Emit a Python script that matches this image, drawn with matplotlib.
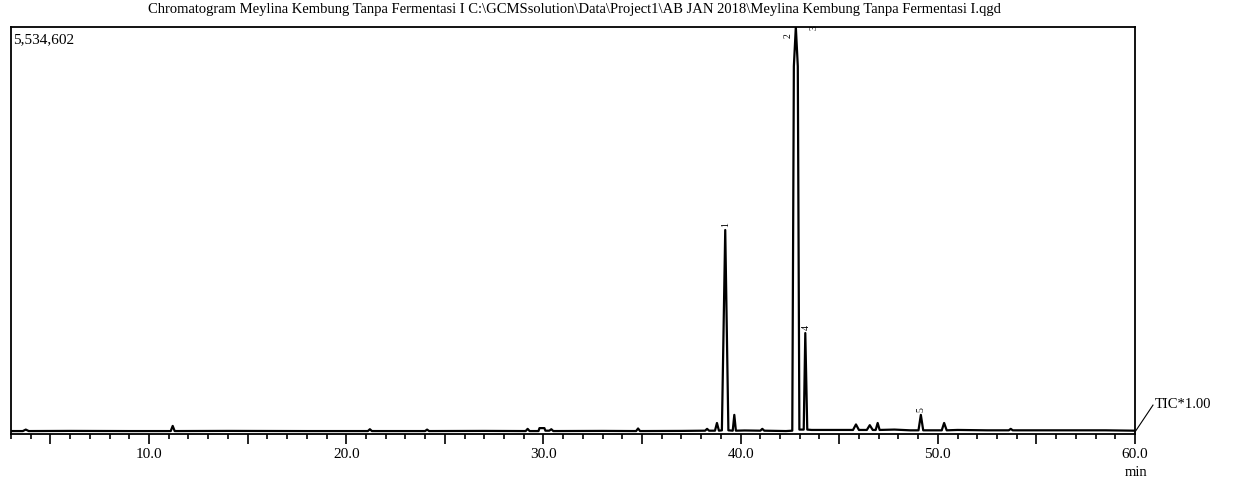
import matplotlib
matplotlib.use("Agg")
import matplotlib.pyplot as plt
from matplotlib.ticker import MultipleLocator, FuncFormatter

# === DATA ===
rt = [3.0, 3.6, 3.75, 3.9, 6.0, 9.0, 11.1, 11.2, 11.3, 14.0, 18.0,
      21.1, 21.2, 21.3, 24.0, 24.1, 24.2, 27.0, 29.1, 29.2, 29.3,
      29.75, 29.8, 30.05, 30.1, 30.3, 30.4, 30.5, 33.0, 34.7, 34.8,
      34.9, 37.0, 38.2, 38.3, 38.4, 38.7, 38.8, 38.9, 39.05, 39.22,
      39.38, 39.6, 39.68, 39.76, 40.2, 41.0, 41.1, 41.2, 42.3, 42.62,
      42.7, 42.8, 42.9, 42.98, 43.12, 43.2, 43.28, 43.38,
      43.6, 44.5, 45.7, 45.85, 46.0, 46.4, 46.55, 46.7, 46.85, 46.95,
      47.05, 47.8, 48.6, 48.9, 49.02, 49.14, 49.26, 49.6, 50.2, 50.32,
      50.45, 51.0, 52.5, 53.6, 53.7, 53.8, 56.0, 58.5, 60.0]
tic = [40000, 40000, 60000, 40000, 42000, 40000, 40000, 110000, 40000, 42000, 40000,
       40000, 65000, 40000, 40000, 60000, 40000, 42000, 40000, 70000, 40000,
       40000, 80000, 80000, 45000, 45000, 65000, 40000, 42000, 40000, 75000,
       40000, 42000, 45000, 70000, 45000, 45000, 150000, 45000, 50000, 2774000,
       50000, 45000, 260000, 45000, 48000, 45000, 70000, 45000, 40000, 45000,
       5000000, 5534602, 5000000, 60000, 60000, 60000, 1373000, 60000,
       55000, 55000, 55000, 130000, 55000, 55000, 120000, 55000, 55000, 150000,
       55000, 60000, 50000, 50000, 50000, 260000, 50000, 50000, 50000, 150000,
       50000, 55000, 50000, 50000, 70000, 50000, 50000, 50000, 45000]

peak_no = ["1", "2", "3", "4", "5"]
peak_rt = [39.22, 42.76, 42.88, 43.28, 49.14]
peak_h = [2774000, 5534602, 5534602, 1373000, 260000]
max_tic = 5534602

# === FIGURE ===
fig = plt.figure(figsize=(12.34, 4.84), dpi=100)
ax = fig.add_axes([11 / 1234, 1 - 434 / 484, 1124 / 1234, 407 / 484])
plt.rcParams["font.family"] = "Liberation Serif"

ax.plot(rt, tic, color="black", linewidth=1.6)

ax.set_xlim(3.0, 60.0)
ax.set_ylim(0, max_tic)
ax.set_yticks([])

ax.xaxis.set_major_locator(MultipleLocator(5))
ax.xaxis.set_minor_locator(MultipleLocator(1))
ax.xaxis.set_major_formatter(FuncFormatter(lambda v, p: f"{v:.1f}" if abs(v % 10) < 1e-6 else ""))
ax.tick_params(axis="x", which="major", length=7, width=1.2, direction="out",
               labelsize=11, pad=3)
ax.tick_params(axis="x", which="minor", length=3.5, width=1.2, direction="out")
for lab in ax.get_xticklabels():
    lab.set_family("Liberation Serif")
for s in ax.spines.values():
    s.set_linewidth(1.3)

# peak numbers, rotated like the instrument printout
offsets = [(0, 2), (-5, -8), (12, -2), (1, 2), (0, 2)]
for n, t, h, (dx, dy) in zip(peak_no, peak_rt, peak_h, offsets):
    ax.annotate(n, (t, h), xytext=(dx, dy), textcoords="offset points",
                rotation=90, fontsize=7, ha="center", va="bottom",
                family="Liberation Serif", annotation_clip=False)

ax.text(0.002, 0.985, f"{max_tic:,}", transform=ax.transAxes, ha="left", va="top",
        fontsize=11, family="Liberation Serif")

# TIC tag on the right
ax.plot([1.0, 1.016], [0.005, 0.071], transform=ax.transAxes, color="black",
        linewidth=0.8, clip_on=False)
ax.text(1.018, 0.073, "TIC*1.00", transform=ax.transAxes, ha="left", va="center",
        fontsize=10.5, family="Liberation Serif")
fig.text(1136 / 1234, 1 - 472 / 484, "min", ha="center", va="center",
         fontsize=10.5, family="Liberation Serif")

fig.text(574 / 1234, 1 - 9 / 484,
         "Chromatogram Meylina Kembung Tanpa Fermentasi I C:\\GCMSsolution\\Data\\Project1\\AB JAN 2018\\Meylina Kembung Tanpa Fermentasi I.qgd",
         ha="center", va="center", fontsize=10.5, family="Liberation Serif")

fig.savefig("out.png", dpi=100)
